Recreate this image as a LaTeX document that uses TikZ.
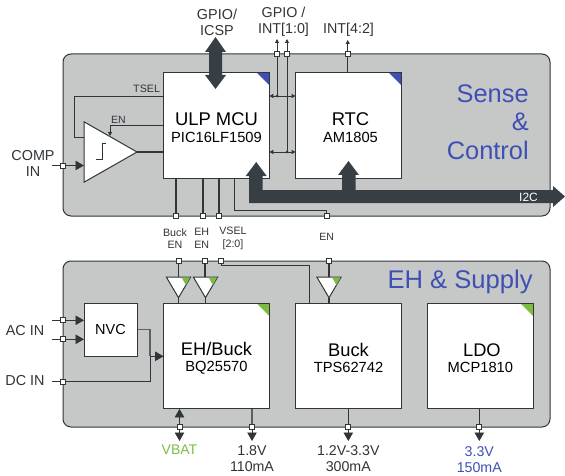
\documentclass[tikz,border=0pt]{standalone}
\usepackage{fontspec}
\setmainfont{Liberation Sans}
\usetikzlibrary{arrows.meta,shapes.geometric}
\definecolor{panelgray}{HTML}{C6C8C8}
\definecolor{ink}{HTML}{2F3538}
\definecolor{bus}{HTML}{373F45}
\definecolor{wire}{HTML}{5A5F60}
\definecolor{ublue}{HTML}{3F50B5}
\definecolor{ugreen}{HTML}{7DBB42}
\pgfdeclarelayer{panels}
\pgfdeclarelayer{wires}
\pgfsetlayers{panels,wires,main}
\newcommand{\fs}[1]{\fontsize{#1}{#1}\selectfont}
\newcommand{\lift}{\rule{0pt}{18pt}}
\newcommand{\cornermark}[2]{\fill[#2] ([xshift=-13pt]#1.north east) -- (#1.north east) -- ([yshift=-13pt]#1.north east) -- cycle;\draw[ink,line width=1pt] ([xshift=-13pt]#1.north east) -- (#1.north east) -- ([yshift=-13pt]#1.north east);}
\newcommand{\buffermark}[1]{\fill[ugreen] ([xshift=3.2pt,yshift=20.2pt]#1.apex) -- ([xshift=11.6pt,yshift=20.2pt]#1.apex) -- ([xshift=7.4pt,yshift=12.6pt]#1.apex) -- cycle;}
\tikzset{
  panel/.style={fill=panelgray,draw=ink,line width=1pt,rounded corners=8pt},
  block/.style={draw=ink,line width=1pt,fill=white,minimum width=105.8pt,minimum height=105.8pt,inner sep=0pt,outer sep=0pt,align=center},
  port/.style={draw=ink,fill=white,line width=.8pt,minimum size=5pt,inner sep=0pt,outer sep=0pt},
  wireT/.style={draw=ink,line width=1.3pt},
  wireG/.style={draw=wire,line width=1.1pt},
  wireS/.style={draw=ink,line width=.8pt},
  bigtip/.style={-{Triangle[length=8.5pt,width=9.5pt]}},
  smalltip/.style={-{Triangle[length=4pt,width=4pt]}},
  dot/.style={circle,fill=ink,minimum size=3pt,inner sep=0pt,outer sep=0pt},
  buffer/.style={isosceles triangle,isosceles triangle apex angle=61,shape border rotate=270,draw=ink,fill=white,line width=1pt,minimum height=20.7pt,inner sep=0pt,outer sep=0pt,anchor=apex},
  lab/.style={inner sep=0pt,outer sep=0pt,align=center,text=ink},
}
\begin{document}
\begin{tikzpicture}[x=1pt,y=-1pt]
\useasboundingbox (0,0) rectangle (565,476);
\begin{pgfonlayer}{panels}
\path[panel] (63,54) rectangle (550,216);
\path[panel] (63,261) rectangle (550,427);
\end{pgfonlayer}
% blocks
\node[block] (mcu) at (216.5,125.3) {\lift\fs{18.4}ULP MCU\\[4.7pt]\fs{14.7}PIC16LF1509};
\node[block] (rtc) at (348.5,125.3) {\lift\hspace*{4pt}\fs{18.4}RTC\\[4.7pt]\hspace*{4pt}\fs{14.7}AM1805};
\node[block] (eh) at (216.5,356) {\lift\fs{18.3}EH/Buck\\[4pt]\fs{14.7}BQ25570};
\node[block] (buck) at (348.5,356) {\lift\fs{18.3}Buck\\[4pt]\fs{14.7}TPS62742};
\node[block] (ldo) at (480.4,356) {\lift\hspace*{3pt}\fs{18.3}LDO\\[4pt]\fs{14.7}MCP1810};
\node[draw=ink,line width=1pt,fill=white,minimum width=53pt,minimum height=53pt,inner sep=0pt,outer sep=0pt,font=\fs{14.5}] (nvc) at (110.5,329.7) {NVC};
\cornermark{mcu}{ublue}
\cornermark{rtc}{ublue}
\cornermark{eh}{ugreen}
\cornermark{ldo}{ugreen}
% ports
\node[port] (pcomp) at (63,165.5) {};
\node[port] (pbk) at (176,216) {};
\node[port] (peh) at (203,216) {};
\node[port] (pv) at (219,216) {};
\node[port] (pen) at (326.7,216) {};
\node[port] (pg1) at (277,54) {};
\node[port] (pg2) at (287,54) {};
\node[port] (pint) at (347.7,54) {};
\node[port] (qbk) at (178.5,261) {};
\node[port] (qeh) at (205,261) {};
\node[port] (qv) at (221,260.5) {};
\node[port] (qen) at (329,260.5) {};
\node[port] (pac1) at (63,320.3) {};
\node[port] (pac2) at (63,339.3) {};
\node[port] (pdc) at (63,381.7) {};
\node[port] (pbat) at (179.5,426.5) {};
\node[port] (p18) at (252,426.5) {};
\node[port] (p12) at (348.3,426.5) {};
\node[port] (p33) at (479.3,426.5) {};
% comparator
\node[isosceles triangle,isosceles triangle apex angle=59.4,draw=ink,fill=white,line width=1pt,minimum height=53pt,inner sep=0pt,outer sep=0pt,anchor=apex] (cmp) at (137,152) {};
\draw[ink,line width=1pt] (96,160) -- (102.5,160) -- (102.5,144) -- (106,144);
% buffers
\node[buffer] (b1) at (178.5,297.7) {};
\node[buffer] (b2) at (205.5,297.7) {};
\node[buffer] (b3) at (329,297.7) {};
\buffermark{b1}
\buffermark{b2}
\buffermark{b3}
\begin{pgfonlayer}{wires}
% comparator wiring
\coordinate (tselA) at (74,137);
\coordinate (enA) at (110,136);
\draw[wireS] (mcu.west |- 0,96) -| (tselA) -- (84,137);
\draw[wireS,smalltip] (mcu.west |- 0,125.5) -| (enA);
\draw[wireT] (cmp.apex) -- (cmp.apex -| mcu.west);
\coordinate (compfree) at (52,165.5);
\coordinate (compend) at (84,165.5);
\draw[wireS] (compfree) -- (pcomp);
\draw[wireS,bigtip] (pcomp) -- (compend);
% MCU lower wires
\draw[wireT] (mcu.south -| pbk) -- (pbk);
\draw[wireT] (mcu.south -| peh) -- (peh);
\draw[wireT] (mcu.south -| pv) -- (pv);
\coordinate (enbend) at (234.5,210);
\draw[wireS] (mcu.south -| enbend) -- (enbend) -| (pen);
% GPIO wires
\coordinate (g1up) at (277,39);
\coordinate (g2up) at (287,39);
\coordinate (intup) at (347.7,40);
\draw[wireS,smalltip] (pg1) -- (g1up);
\draw[wireS,smalltip] (pg2) -- (g2up);
\draw[wireS,smalltip] (pint) -- (intup);
\draw[wireS] (pg1) -- (277,96);
\draw[wireS] (pg2) -- (287,152);
\draw[wireS] (rtc.north -| pint) -- (pint);
\draw[wireS,{Triangle[length=4pt,width=4pt]}-{Triangle[length=4pt,width=4pt]}] (mcu.east |- 0,96) -- (rtc.west |- 0,96);
\draw[wireS,{Triangle[length=4pt,width=4pt]}-{Triangle[length=4pt,width=4pt]}] (mcu.east |- 0,152) -- (rtc.west |- 0,152);
% lower wires
\draw[wireT] (qbk) -- (b1.north -| qbk);
\draw[wireT] (qeh) -- (b2.north -| qeh);
\draw[wireT] (qen) -- (b3.north -| qen);
\draw[wireT] (b1.apex) -- (eh.north -| b1.apex);
\draw[wireT] (b2.apex) -- (eh.north -| b2.apex);
\draw[wireT] (b3.apex) -- (buck.north -| b3.apex);
\coordinate (vselbend) at (309,265);
\draw[wireS] (qv) |- (vselbend) -- (buck.north -| vselbend);
\coordinate (ac1free) at (52,320.3);
\coordinate (ac2free) at (52,339.3);
\coordinate (dcfree) at (52,381.7);
\coordinate (join) at (150,356.3);
\draw[wireS] (ac1free) -- (pac1);
\draw[wireS] (ac2free) -- (pac2);
\draw[wireS] (dcfree) -- (pdc);
\draw[wireS,bigtip] (pac1) -- (nvc.west |- pac1);
\draw[wireS,bigtip] (pac2) -- (nvc.west |- pac2);
\draw[wireG] (nvc.east) -| (join);
\draw[wireS] (pdc) -| (join);
\draw[wireS,bigtip] (join) -- (eh.west |- join);
\coordinate (batdn) at (179.5,441);
\coordinate (v18dn) at (252,441);
\coordinate (v12dn) at (348.3,441);
\coordinate (v33dn) at (479.3,441);
\draw[wireS,bigtip] (pbat) -- (eh.south -| pbat);
\draw[wireS,bigtip] (pbat) -- (batdn);
\draw[wireG] (eh.south -| p18) -- (p18);
\draw[wireS,bigtip] (p18) -- (v18dn);
\draw[wireS] (buck.south -| p12) -- (p12);
\draw[wireS,bigtip] (p12) -- (v12dn);
\draw[wireS] (ldo.south -| p33) -- (p33);
\draw[wireS,bigtip] (p33) -- (v33dn);
\end{pgfonlayer}
\node[dot] (d1) at (277,96) {};
\node[dot] (d2) at (287,152) {};
% thick buses
\fill[bus] (256.2,162) -- (266.7,176) -- (262.6,176) -- (262.6,190) -- (342,190) -- (342,175) -- (338,175) -- (348.5,161) -- (359,175) -- (355.5,175) -- (355.5,190) -- (553,190) -- (553,186) -- (565,196.5) -- (553,207) -- (553,203) -- (249,203) -- (249,176) -- (245.7,176) -- cycle;
\fill[bus] (215.5,37) -- (226,52) -- (222,52) -- (222,75) -- (226,75) -- (215.5,89) -- (205,75) -- (209,75) -- (209,52) -- (205,52) -- cycle;
% labels
\node[lab,font=\fs{14.4}] (lgi) at (217,22.5) {GPIO/\\[2pt]ICSP};
\node[lab,font=\fs{14.3}] (lgr) at (283.5,22) {GPIO /\\[2pt]INT[1:0]};
\node[lab,font=\fs{14.3}] (li) at (348.5,30) {INT[4:2]};
\node[lab,font=\fs{10.7},anchor=east] (lt) at (160,88.5) {TSEL};
\node[lab,font=\fs{10.5}] (le) at (118.5,120) {EN};
\node[lab,font=\fs{14.4}] (lc) at (33,163.5) {COMP\\[2pt]IN};
\node[lab,font=\fs{10.7}] (l1) at (175,238.5) {Buck\\[2pt]EN};
\node[lab,font=\fs{10.7}] (l2) at (201.7,238.5) {EH\\[2pt]EN};
\node[lab,font=\fs{10.7}] (l3) at (233,238.5) {VSEL\\[2pt][2:0]};
\node[lab,font=\fs{10.5}] (l4) at (326.7,237) {EN};
\node[lab,font=\fs{14.4}] (lac) at (25,331) {AC IN};
\node[lab,font=\fs{14.4}] (ldc) at (25,381) {DC IN};
\node[lab,font=\fs{25.4},text=ublue,align=right,anchor=east] (ls) at (528.7,122) {Sense\\[3pt]\&\\[3pt]Control};
\node[lab,font=\fs{25.6},text=ublue,anchor=east] (lsup) at (532.7,282) {EH \& Supply};
\node[lab,font=\fs{12},text=white] (li2c) at (528.5,197) {I2C};
\node[lab,font=\fs{14},text=ugreen] (lb) at (179.5,449.5) {VBAT};
\node[lab,font=\fs{14.2}] (l18) at (252,458.5) {1.8V\\[2pt]110mA};
\node[lab,font=\fs{14.2}] (l12) at (348.3,458.5) {1.2V-3.3V\\[2pt]300mA};
\node[lab,font=\fs{14.2},text=ublue] (l33) at (479.3,460) {3.3V\\[2pt]150mA};
\end{tikzpicture}
\end{document}
